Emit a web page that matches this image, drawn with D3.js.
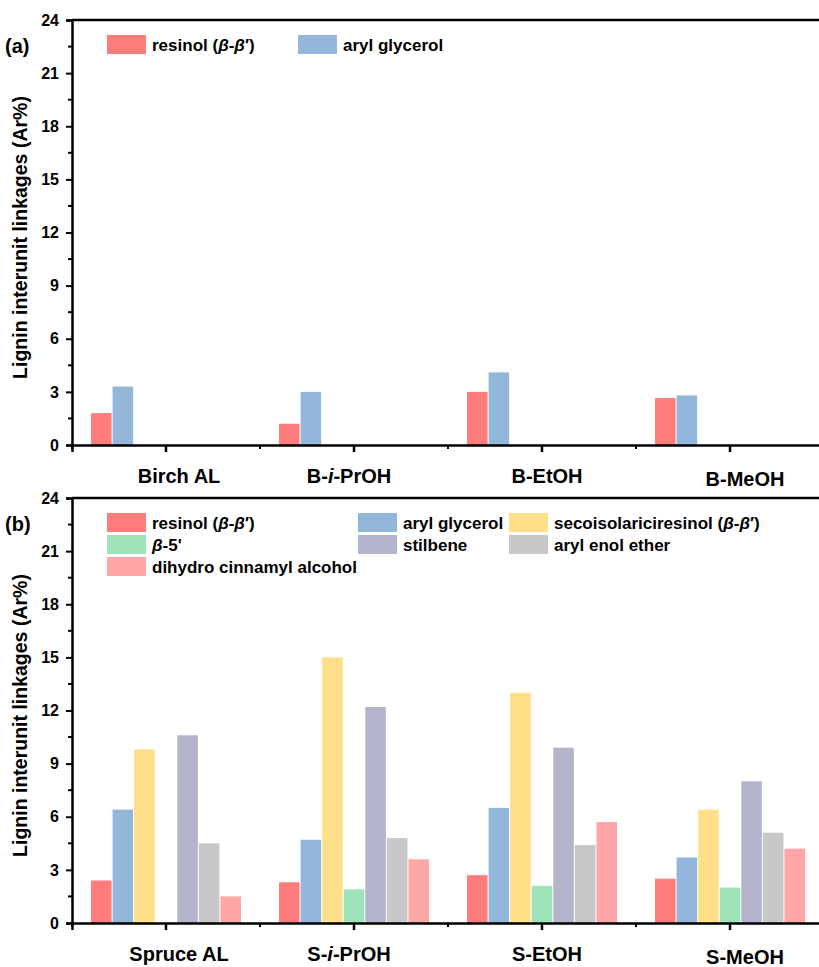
<!DOCTYPE html>
<html>
<head>
<meta charset="utf-8">
<script src="https://cdn.jsdelivr.net/npm/d3@7"></script>
<style>
  body { margin: 0; background: #fff; }
  svg { display: block; font-family: "Liberation Sans", Arial, sans-serif; font-weight: bold; }
</style>
</head>
<body>
<div id="chart"></div>
<script>
// categories
const birchSamples = ["Birch AL", "B-i-PrOH", "B-EtOH", "B-MeOH"];
const spruceSamples = ["Spruce AL", "S-i-PrOH", "S-EtOH", "S-MeOH"];

// series names (b has all seven)
const seriesKeys = ["resinol", "arylGlycerol", "secoiso", "beta5", "stilbene", "arylEnol", "dihydro"];
const seriesColors = ["#FF7C7C", "#93B6DB", "#FFDF87", "#9FE3B8", "#B4B4CD", "#C8C8C8", "#FFA6A6"];

// panel (a) values
const birchResinol = [1.8, 1.2, 3.0, 2.65];
const birchArylGlycerol = [3.3, 3.0, 4.1, 2.8];

// panel (b) values
const spruceResinol = [2.4, 2.3, 2.7, 2.5];
const spruceArylGlycerol = [6.4, 4.7, 6.5, 3.7];
const spruceSecoiso = [9.8, 15.0, 13.0, 6.4];
const spruceBeta5 = [0, 1.9, 2.1, 2.0];
const spruceStilbene = [10.6, 12.2, 9.9, 8.0];
const spruceArylEnol = [4.5, 4.8, 4.4, 5.1];
const spruceDihydro = [1.5, 3.6, 5.7, 4.2];

const yTicks = [0, 3, 6, 9, 12, 15, 18, 21, 24];

const W = 819, H = 967;
const svg = d3.select("#chart").append("svg").attr("width", W).attr("height", H);

// label pieces: [text, italic]
function richText(sel, parts) {
  parts.forEach(p => {
    sel.append("tspan").text(p[0]).style("font-style", p[1] ? "italic" : "normal");
  });
}

const sampleLabelParts = {
  "Birch AL": [["Birch AL"]],
  "B-i-PrOH": [["B-"], ["i", true], ["-PrOH"]],
  "B-EtOH": [["B-EtOH"]],
  "B-MeOH": [["B-MeOH"]],
  "Spruce AL": [["Spruce AL"]],
  "S-i-PrOH": [["S-"], ["i", true], ["-PrOH"]],
  "S-EtOH": [["S-EtOH"]],
  "S-MeOH": [["S-MeOH"]]
};

const legendParts = {
  resinol: [["resinol ("], ["β", true], ["-"], ["β", true], ["′)"]],
  arylGlycerol: [["aryl glycerol"]],
  secoiso: [["secoisolariciresinol ("], ["β", true], ["-"], ["β", true], ["′)"]],
  beta5: [["β", true], ["-5'"]],
  stilbene: [["stilbene"]],
  arylEnol: [["aryl enol ether"]],
  dihydro: [["dihydro cinnamyl alcohol"]]
};

function drawPanel(opt) {
  const g = svg.append("g");
  const x0 = d3.scaleBand().domain(opt.samples).range([72, 824]).padding(0);
  const groupW = 151;
  const x1 = d3.scaleBand().domain(seriesKeys)
    .range([(x0.bandwidth() - groupW) / 2, (x0.bandwidth() + groupW) / 2]);
  const y = d3.scaleLinear().domain([0, 24]).range([opt.bottom, opt.top]);
  const color = d3.scaleOrdinal().domain(seriesKeys).range(seriesColors);

  const rows = [];
  opt.samples.forEach((s, i) => {
    opt.series.forEach(se => rows.push({ sample: s, key: se.key, value: se.values[i] }));
  });

  g.selectAll("rect.bar").data(rows.filter(d => d.value > 0)).enter().append("rect")
    .attr("class", "bar")
    .attr("x", d => x0(d.sample) + x1(d.key) + 0.5)
    .attr("width", x1.bandwidth() - 1)
    .attr("y", d => y(d.value))
    .attr("height", d => y(0) - y(d.value))
    .attr("fill", d => color(d.key));

  // frame top line
  g.append("line").attr("x1", 72).attr("x2", 830)
    .attr("y1", opt.top).attr("y2", opt.top)
    .attr("stroke", "#000").attr("stroke-width", 2.5);

  // y axis
  const yAxis = g.append("g").attr("transform", "translate(72,0)")
    .call(d3.axisLeft(y).tickValues(yTicks).tickSize(6).tickPadding(7));
  yAxis.select(".domain").attr("stroke-width", 2.5);
  yAxis.selectAll(".tick line").attr("stroke-width", 2);
  yAxis.selectAll(".tick text").style("font-size", "16px").style("font-weight", "bold")
    .style("font-family", "'Liberation Sans', Arial, sans-serif").attr("fill", "#000");
  g.append("g").selectAll("line").data(d3.range(1.5, 24, 3)).enter().append("line")
    .attr("x1", 68).attr("x2", 72).attr("y1", d => y(d)).attr("y2", d => y(d))
    .attr("stroke", "#000").attr("stroke-width", 2);

  // x axis
  const xAxis = g.append("g").attr("transform", `translate(0,${opt.bottom})`)
    .call(d3.axisBottom(x0).tickSize(7).tickFormat(""));
  xAxis.select(".domain").attr("stroke-width", 2.5);
  xAxis.selectAll(".tick line").attr("stroke-width", 2.5);
  g.append("g").selectAll("line").data(opt.samples).enter().append("line")
    .attr("x1", d => x0(d)).attr("x2", d => x0(d))
    .attr("y1", opt.bottom).attr("y2", opt.bottom + 4)
    .attr("stroke", "#000").attr("stroke-width", 2);

  const labOffsets = [13, -5, 5, 15];
  g.selectAll("text.xlab").data(opt.samples).enter().append("text")
    .attr("class", "xlab")
    .attr("x", (d, i) => x0(d) + x0.bandwidth() / 2 + labOffsets[i])
    .attr("y", (d, i) => opt.bottom + (i === 3 ? 41 : 38))
    .attr("text-anchor", "middle")
    .style("font-size", "20px")
    .each(function(d) { richText(d3.select(this), sampleLabelParts[d]); });

  // y title
  g.append("text")
    .attr("transform", `translate(27,${(opt.top + opt.bottom) / 2 + 5}) rotate(-90)`)
    .attr("text-anchor", "middle")
    .style("font-size", "19.5px")
    .text("Lignin interunit linkages (Ar%)");

  // panel tag
  g.append("text").attr("x", 5).attr("y", opt.top + 33)
    .style("font-size", "20px").text(opt.tag);

  // legend
  const leg = g.selectAll("g.leg").data(opt.series).enter().append("g")
    .attr("class", "leg")
    .attr("transform", (d, i) => {
      const col = i % opt.legendCols.length, row = Math.floor(i / opt.legendCols.length);
      return `translate(${opt.legendCols[col]},${opt.top + 15 + row * 22})`;
    });
  leg.append("rect").attr("width", 39).attr("height", 19)
    .attr("fill", d => color(d.key));
  leg.append("text").attr("x", 45).attr("y", 16)
    .style("font-size", "17px")
    .each(function(d) { richText(d3.select(this), legendParts[d.key]); });
}

drawPanel({
  tag: "(a)",
  samples: birchSamples,
  top: 20, bottom: 445,
  legendCols: [107, 298],
  series: [
    { key: "resinol", values: birchResinol },
    { key: "arylGlycerol", values: birchArylGlycerol }
  ]
});

drawPanel({
  tag: "(b)",
  samples: spruceSamples,
  top: 498, bottom: 923,
  legendCols: [107, 358, 509],
  series: [
    { key: "resinol", values: spruceResinol },
    { key: "arylGlycerol", values: spruceArylGlycerol },
    { key: "secoiso", values: spruceSecoiso },
    { key: "beta5", values: spruceBeta5 },
    { key: "stilbene", values: spruceStilbene },
    { key: "arylEnol", values: spruceArylEnol },
    { key: "dihydro", values: spruceDihydro }
  ]
});
</script>
</body>
</html>
